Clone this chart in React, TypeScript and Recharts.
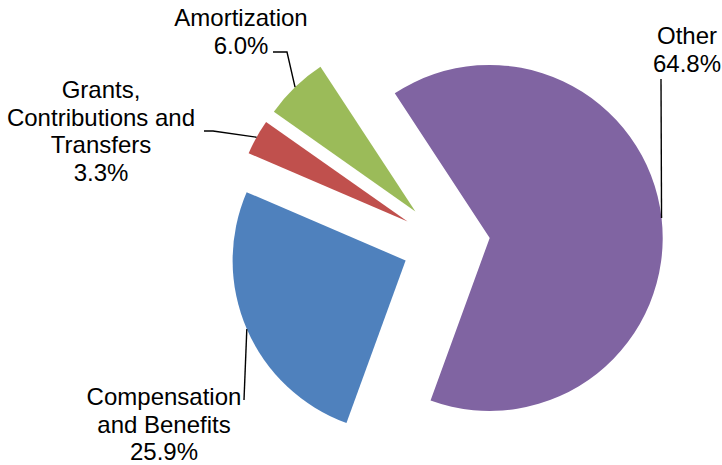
import React from 'react';
import { PieChart, Pie, Cell } from 'recharts';

const categories = ['Compensation and Benefits', 'Grants, Contributions and Transfers', 'Amortization', 'Other'];
const shares = [25.9, 3.3, 6.0, 64.8];
const nameLines = [['Compensation', 'and Benefits'], ['Grants,', 'Contributions and', 'Transfers'], ['Amortization'], ['Other']];
const colors = ['#4F81BD', '#C0504D', '#9BBB59', '#8064A2'];

const data = categories.map((name, i) => ({ name, value: shares[i] }));

const START = -110;
const END = START - 360;
const CENTER_X = 446;
const CENTER_Y = 243;
const RADIUS = 173;
const EXPLODE = 44;
const RAD = Math.PI / 180;
const FONT = '"Liberation Sans", Arial, sans-serif';

const total = shares.reduce((a, b) => a + b, 0);
// mid angle of every slice, used to push it out from the centre
const midAngles = shares.map((v, i) => {
  const before = shares.slice(0, i).reduce((a, b) => a + b, 0);
  return START - ((before + v / 2) / total) * 360;
});

// where each label sits, and the bend points of its leader line
const labelPos = [
  { x: 164, y: 405, leader: [[244, 400]] },
  { x: 101, y: 98, leader: [[204, 131], [213, 131]] },
  { x: 241, y: 26, leader: [[273, 52], [287, 52]] },
  { x: 687, y: 44, leader: [[661, 79]] },
];

const makeLabel = (k: number) => (props: any) => {
  if (props.index !== k) return null;
  const { cx, cy, midAngle, outerRadius, value } = props;
  const px = cx + outerRadius * Math.cos(-midAngle * RAD);
  const py = cy + outerRadius * Math.sin(-midAngle * RAD);
  const pos = labelPos[k];
  const pts = [...pos.leader, [px, py]].map((p) => p.join(',')).join(' ');
  const lines = [...nameLines[k], `${Number(value).toFixed(1)}%`];
  return (
    <g key={`label-${k}`}>
      <polyline points={pts} fill="none" stroke="#000" strokeWidth={1.4} />
      <text x={pos.x} y={pos.y} textAnchor="middle" fontSize={24} fontFamily={FONT} fill="#000">
        {lines.map((l, i) => (
          <tspan key={i} x={pos.x} dy={i === 0 ? 0 : 27.5}>{l}</tspan>
        ))}
      </text>
    </g>
  );
};

const App: React.FC = () => {
  return (
    <div style={{ position: 'absolute', left: 0, top: 0 }}>
      <PieChart width={722} height={465} margin={{ top: 0, right: 0, bottom: 0, left: 0 }}>
        {data.map((_, k) => (
          <Pie
            key={k}
            data={data}
            dataKey="value"
            nameKey="name"
            cx={CENTER_X + EXPLODE * Math.cos(midAngles[k] * RAD)}
            cy={CENTER_Y - EXPLODE * Math.sin(midAngles[k] * RAD)}
            outerRadius={RADIUS}
            startAngle={START}
            endAngle={END}
            label={makeLabel(k)}
            labelLine={false}
            isAnimationActive={false}
          >
            {data.map((d, i) => (
              <Cell key={d.name} fill={i === k ? colors[i] : 'none'} stroke="none" />
            ))}
          </Pie>
        ))}
      </PieChart>
    </div>
  );
};

export default App;
